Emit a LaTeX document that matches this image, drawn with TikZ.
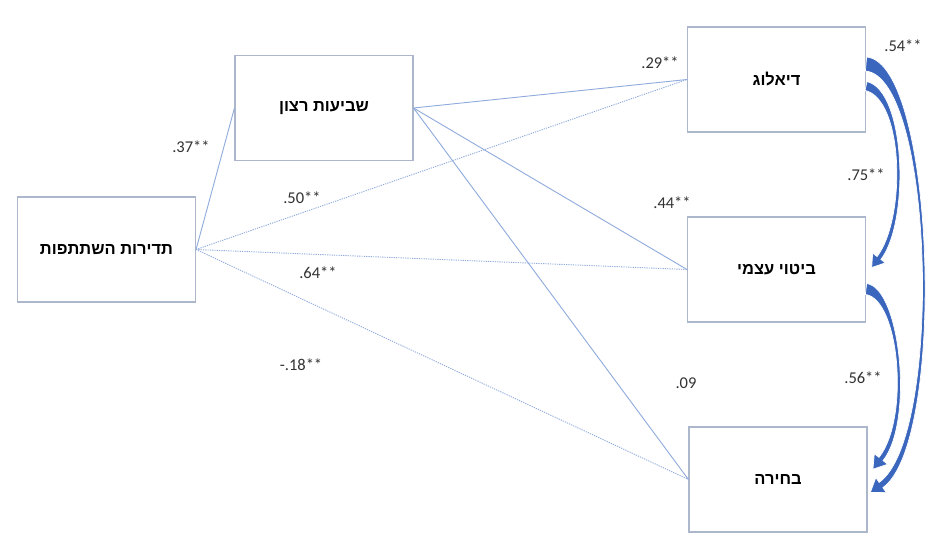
\documentclass[tikz,border=0pt]{standalone}
\usepackage{fontspec}
\setmainfont{Carlito}
\newfontfamily\heb[Script=Hebrew]{Liberation Sans}
\TeXXeTstate=1
\usetikzlibrary{calc}
\definecolor{boxline}{RGB}{172,183,204}
\definecolor{linkblue}{RGB}{143,170,220}
\definecolor{arrowblue}{RGB}{58,102,190}
\definecolor{numgray}{RGB}{50,50,50}
\tikzset{
  varbox/.style={draw=boxline, line width=1.1pt, fill=white, minimum width=178pt,
    minimum height=105pt, inner sep=0pt, font=\heb\bfseries\fontsize{16.5}{19}\selectfont},
  solidlink/.style={draw=linkblue, line width=0.9pt},
  dotlink/.style={draw=linkblue, line width=0.9pt, dash pattern=on 1.2pt off 1.1pt},
  coef/.style={inner sep=0pt, text=numgray, font=\fontsize{16.5}{19}\selectfont}
}
% tapered curved arrow: P0 P1 P2 P3, half width start, half width end, head half width, head length
\newcommand\taperarrow[8]{%
  \fill[arrowblue, draw=white, line width=0.7pt]
    ($(#1)!#5!90:(#2)$) .. controls ($(#2)!#5!-90:(#1)$) and ($(#3)!#6!90:(#4)$) .. ($(#4)!#6!-90:(#3)$)
    -- ($(#4)!#7!-90:(#3)$) -- ($(#4)!#8!180:(#3)$) -- ($(#4)!#7!90:(#3)$)
    -- ($(#4)!#6!90:(#3)$) .. controls ($(#3)!#6!-90:(#4)$) and ($(#2)!#5!90:(#1)$) .. ($(#1)!#5!-90:(#2)$)
    -- cycle;}
\begin{document}
\begin{tikzpicture}[x=1pt,y=-1pt]
\useasboundingbox (0,0) rectangle (931,541);
\fill[white] (0,0) rectangle (931,541);

\node[varbox] (freq) at (106.5,249.5) {\beginR תדירות השתתפות\endR};
\node[varbox] (sat) at (324,108) {\beginR שביעות רצון\endR};
\node[varbox] (dia) at (776.5,79.5) {\beginR דיאלוג\endR};
\node[varbox] (self) at (776.5,269.5) {\beginR ביטוי עצמי\endR};
\node[varbox] (cho) at (778,479.5) {\beginR בחירה\endR};

\draw[solidlink] (freq.east) -- (sat.west);
\draw[dotlink] (freq.east) -- (dia.west);
\draw[dotlink] (freq.east) -- (self.west);
\draw[dotlink] (freq.east) -- (cho.west);
\draw[solidlink] (sat.east) -- (dia.west);
\draw[solidlink] (sat.east) -- (self.west);
\draw[solidlink] (sat.east) -- (cho.west);

% curved arrows on the right
\coordinate (a0) at (866,64);  \coordinate (a1) at (935,70);
\coordinate (a2) at (945,440); \coordinate (a3) at (881,485);
\coordinate (b0) at (866,86);  \coordinate (b1) at (905,95);
\coordinate (b2) at (908,220); \coordinate (b3) at (879,258);
\coordinate (c0) at (866,289); \coordinate (c1) at (900,293);
\coordinate (c2) at (912,420); \coordinate (c3) at (881,459);
\taperarrow{a0}{a1}{a2}{a3}{7pt}{3.2pt}{9pt}{13pt}
\taperarrow{b0}{b1}{b2}{b3}{4.5pt}{2.4pt}{8pt}{12pt}
\taperarrow{c0}{c1}{c2}{c3}{5.5pt}{2.6pt}{8.5pt}{13pt}

\node[coef] (l37) at (191,147) {.37**};
\node[coef] (l50) at (302,198) {.50**};
\node[coef] (l64) at (318,273) {.64**};
\node[coef] (l18) at (301,365) {-.18**};
\node[coef] (l29) at (660,63) {.29**};
\node[coef] (l44) at (672,203) {.44**};
\node[coef] (l09) at (686,383) {.09};
\node[coef] (l54) at (903,46) {.54**};
\node[coef] (l75) at (866,175) {.75**};
\node[coef] (l56) at (863,378) {.56**};
\end{tikzpicture}
\end{document}
